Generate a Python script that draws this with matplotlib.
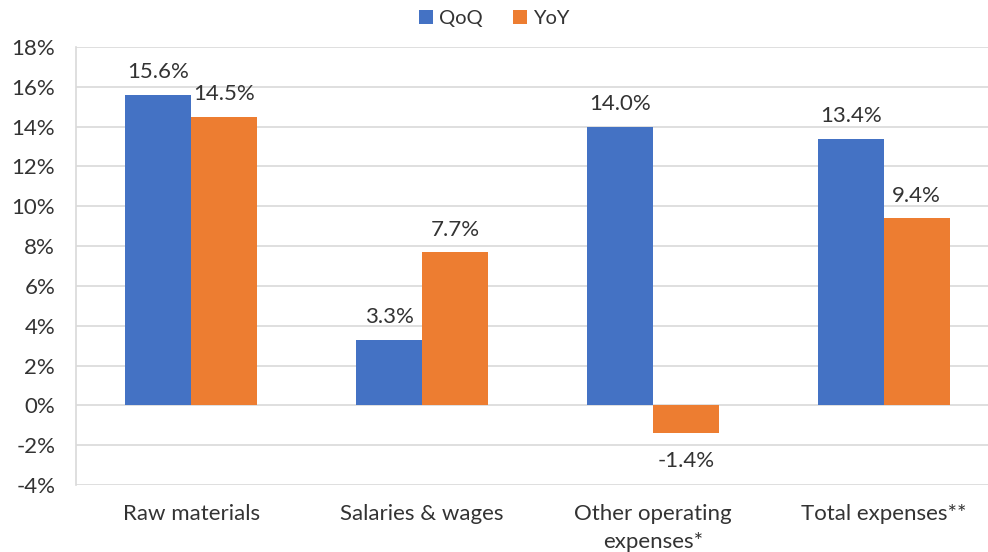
import matplotlib.pyplot as plt
import numpy as np

categories = ['Raw materials', 'Salaries & wages', 'Other operating\nexpenses*', 'Total expenses**']
qoq = [15.6, 3.3, 14.0, 13.4]
yoy = [14.5, 7.7, -1.4, 9.4]
yticks = [-4, -2, 0, 2, 4, 6, 8, 10, 12, 14, 16, 18]

blue = '#4472C4'
orange = '#ED7D31'
txt = '#333333'
grid = '#D9D9D9'

plt.rcParams['font.family'] = ['Lato', 'DejaVu Sans']

fig = plt.figure(figsize=(9.88, 5.52), dpi=100)
ax = fig.add_axes([76/988, 1-485/552, 912/988, (485-47)/552])

x = np.arange(len(categories))
w = 0.286
b1 = ax.bar(x - w/2, qoq, w, color=blue, label='QoQ', zorder=3)
b2 = ax.bar(x + w/2, yoy, w, color=orange, label='YoY', zorder=3)

fs = 16
for bars, vals in ((b1, qoq), (b2, yoy)):
    for r, v in zip(bars, vals):
        cx = r.get_x() + r.get_width()/2
        if v >= 0:
            ax.annotate('%.1f%%' % v, (cx, v), xytext=(0, 9), textcoords='offset points',
                        ha='center', va='bottom', fontsize=fs, color=txt)
        else:
            ax.annotate('%.1f%%' % v, (cx, v), xytext=(0, -13), textcoords='offset points',
                        ha='center', va='top', fontsize=fs, color=txt)

ax.set_ylim(-4, 18)
ax.set_xlim(-0.5, 3.452)
ax.set_yticks(yticks)
ax.set_yticklabels(['%d%%' % t for t in yticks], fontsize=fs, color=txt)
ax.set_xticks(x)
ax.set_xticklabels(categories, fontsize=fs, color=txt, linespacing=1.45)
ax.tick_params(axis='both', length=0)
ax.tick_params(axis='y', pad=15)
ax.tick_params(axis='x', pad=14)

ax.yaxis.grid(True, color=grid, linewidth=1.2, zorder=0)
for s in ['top', 'right', 'bottom']:
    ax.spines[s].set_visible(False)
ax.spines['left'].set_color(grid)
ax.spines['left'].set_linewidth(1.2)

fig.legend(handles=[b1, b2], labels=['QoQ', 'YoY'], loc='upper center',
           bbox_to_anchor=(0.5, 1.014), ncol=2, frameon=False, fontsize=14.5,
           handlelength=0.7, handleheight=0.7, handletextpad=0.3, columnspacing=1.5,
           labelcolor=txt)

fig.savefig('out.png', dpi=100)
